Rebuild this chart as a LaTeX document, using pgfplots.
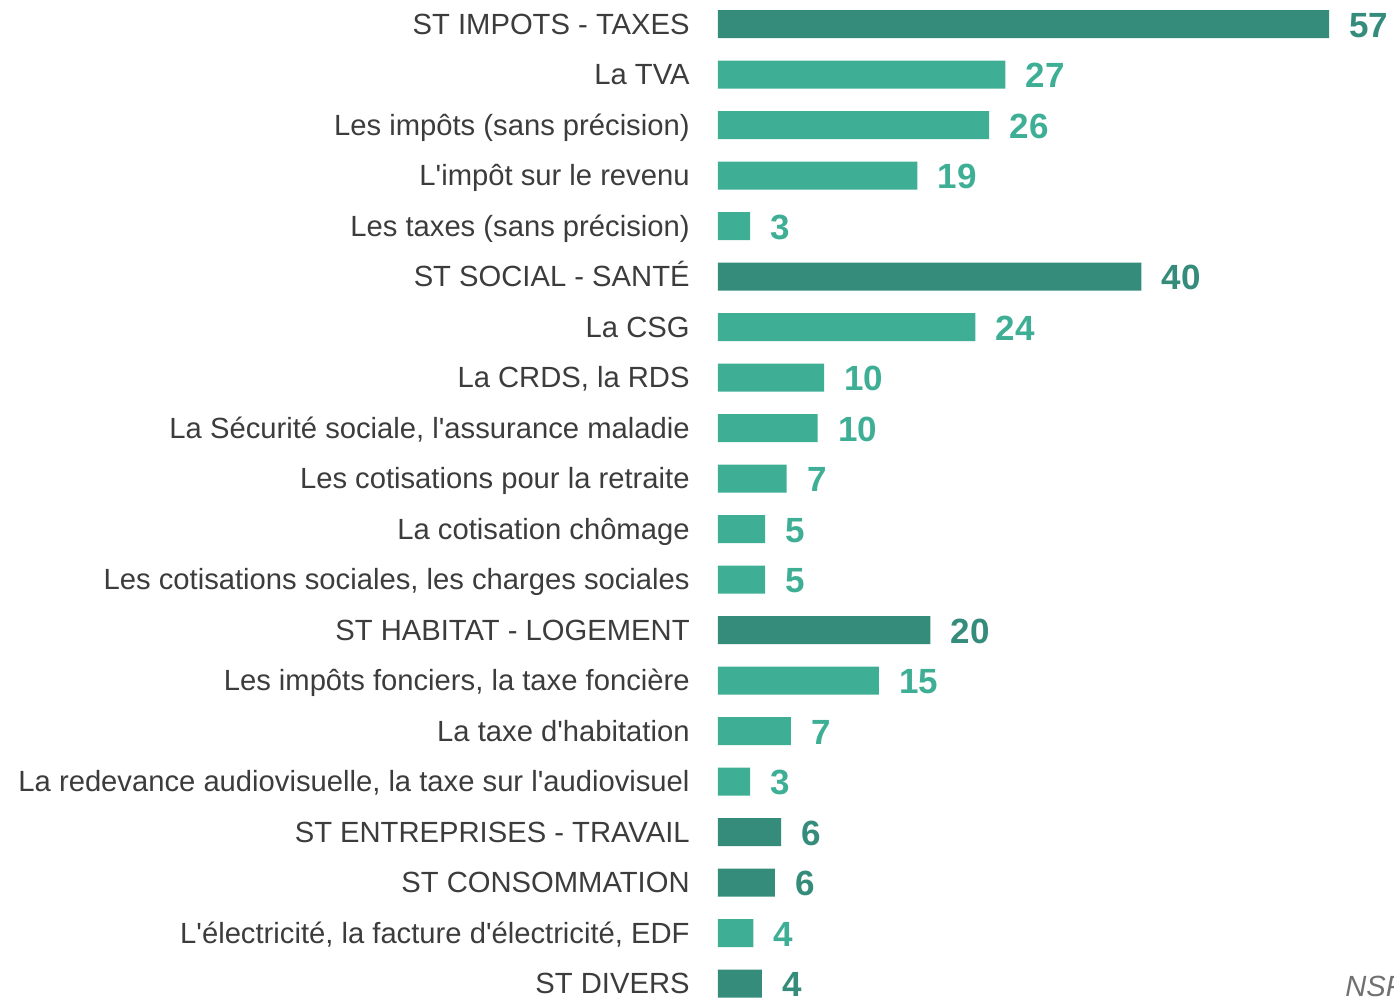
\documentclass[border=0pt]{standalone}
\usepackage{fontspec}
\setmainfont{Liberation Sans}[Ligatures=TeXOff]
\usepackage{pgfplots}
\pgfplotsset{compat=1.18}
\definecolor{DarkBar}{HTML}{358C7B}
\definecolor{LightBar}{HTML}{3EAF95}
\definecolor{LabelGray}{HTML}{3C3C3C}
\definecolor{NspGray}{HTML}{707070}
\begin{document}
\begin{tikzpicture}
\useasboundingbox (0,0) rectangle (697pt,-499pt);
\begin{axis}[
  at={(359pt,0pt)},anchor=north west,
  scale only axis,width=343.04pt,height=499pt,
  xbar,bar width=14pt,bar shift=0pt,
  xmin=0,xmax=64,ymin=-0.4752,ymax=19.287,y dir=reverse,
  clip=false,
  axis line style={draw=none},
  xtick=\empty,
  ytick={0,...,19},
  yticklabels={ST IMPOTS - TAXES,La TVA,Les impôts (sans précision),L'impôt sur le revenu,Les taxes (sans précision),ST SOCIAL - SANTÉ,La CSG,{La CRDS, la RDS},{La Sécurité sociale, l'assurance maladie},Les cotisations pour la retraite,La cotisation chômage,{Les cotisations sociales, les charges sociales},ST HABITAT - LOGEMENT,{Les impôts fonciers, la taxe foncière},La taxe d'habitation,{La redevance audiovisuelle, la taxe sur l'audiovisuel},ST ENTREPRISES - TRAVAIL,ST CONSOMMATION,{L'électricité, la facture d'électricité, EDF},ST DIVERS},
  major tick length=0pt,
  yticklabel style={font=\fontsize{14.6}{17}\selectfont,text=LabelGray,anchor=base east,inner sep=0pt,xshift=-14pt,yshift=-5pt},
  point meta=explicit symbolic,
  nodes near coords,
  every node near coord/.append style={anchor=base west,inner sep=0pt,xshift=10pt,yshift=-6.5pt,font=\fontsize{17.5}{20}\selectfont\bfseries},
]
\addplot[fill=DarkBar,draw=none,every node near coord/.append style={text=DarkBar}] coordinates {
  (57.0,0) [57] (39.5,5) [40] (19.8,12) [20] (5.9,16) [6] (5.3,17) [6] (4.1,19) [4]
};
\addplot[fill=LightBar,draw=none,every node near coord/.append style={text=LightBar}] coordinates {
  (26.8,1) [27] (25.3,2) [26] (18.6,3) [19] (3.0,4) [3] (24.0,6) [24] (9.9,7) [10]
  (9.3,8) [10] (6.4,9) [7] (4.4,10) [5] (4.4,11) [5] (15.0,13) [15] (6.8,14) [7]
  (3.0,15) [3] (3.3,18) [4]
};
\end{axis}
\node[anchor=base west,inner sep=0pt,text=NspGray,font=\fontsize{14.6}{17}\selectfont\itshape] at (672.5pt,-498pt) {NSP};
\end{tikzpicture}
\end{document}
